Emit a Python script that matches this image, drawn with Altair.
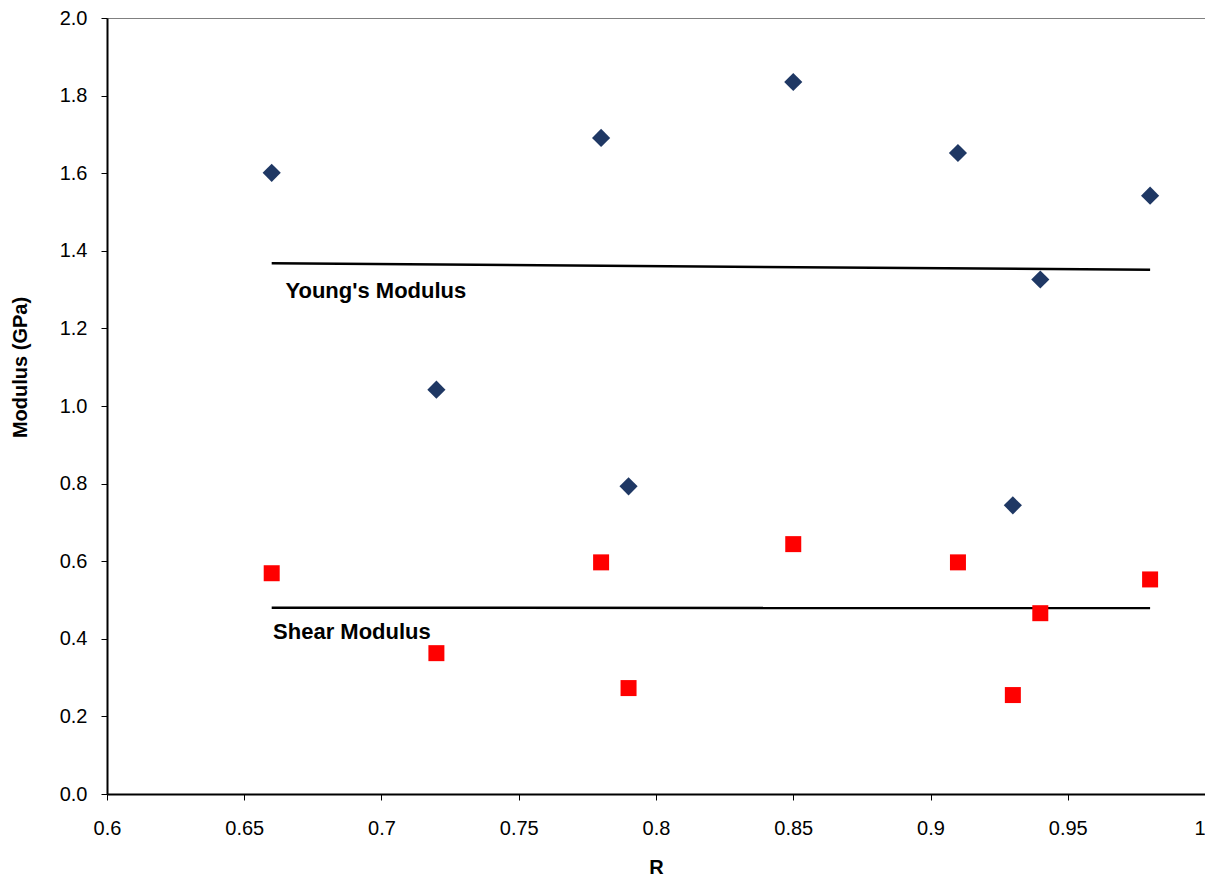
import altair as alt
import pandas as pd

R = [0.66, 0.72, 0.78, 0.79, 0.85, 0.91, 0.93, 0.94, 0.98]
youngs = [1.601, 1.042, 1.691, 0.793, 1.835, 1.652, 0.744, 1.326, 1.542]
shear = [0.569, 0.363, 0.597, 0.273, 0.644, 0.597, 0.255, 0.466, 0.553]

label_text = ["Young's Modulus", "Shear Modulus"]
label_R = [0.665, 0.6605]
label_val = [1.297, 0.417]

df = pd.DataFrame({"R": R, "Young": youngs, "Shear": shear})
lab = pd.DataFrame({"text": label_text, "R": label_R, "v": label_val})

FONT = "Liberation Sans"

xscale = alt.Scale(domain=[0.6, 1.0], nice=False, zero=False)
yscale = alt.Scale(domain=[0.0, 2.0], nice=False, zero=False)

xaxis = alt.Axis(title="R", values=[0.6, 0.65, 0.7, 0.75, 0.8, 0.85, 0.9, 0.95, 1.0],
                 format="~g", labelPadding=18, titleY=63, labelFlush=False,
                 labelAlign={"condition": {"test": "datum.value >= 0.999", "value": "right"},
                             "value": "center"})
yaxis = alt.Axis(title="Modulus (GPa)", values=[i / 10 for i in range(0, 21, 2)],
                 format=".1f", labelPadding=14, titleX=-77, titleY=349)

base = alt.Chart(df)

y_pts = base.mark_point(shape="diamond", filled=True, size=330, color="#1F3864", opacity=1).encode(
    x=alt.X("R:Q", scale=xscale, axis=xaxis),
    y=alt.Y("Young:Q", scale=yscale, axis=yaxis),
)
s_pts = base.mark_point(shape="square", filled=True, size=256, color="#FF0000", opacity=1).encode(
    x=alt.X("R:Q", scale=xscale, axis=xaxis),
    y=alt.Y("Shear:Q", scale=yscale, axis=yaxis),
)
y_fit = base.transform_regression("R", "Young").mark_line(color="black", strokeWidth=2.5).encode(
    x=alt.X("R:Q", scale=xscale, axis=xaxis),
    y=alt.Y("Young:Q", scale=yscale, axis=yaxis),
)
s_fit = base.transform_regression("R", "Shear").mark_line(color="black", strokeWidth=2.5).encode(
    x=alt.X("R:Q", scale=xscale, axis=xaxis),
    y=alt.Y("Shear:Q", scale=yscale, axis=yaxis),
)
labels = alt.Chart(lab).mark_text(align="left", baseline="middle", font=FONT, fontSize=22,
                                  fontWeight="bold", color="black").encode(
    x=alt.X("R:Q", scale=xscale, axis=xaxis),
    y=alt.Y("v:Q", scale=yscale, axis=yaxis),
    text="text:N",
)

chart = alt.layer(y_fit, s_fit, y_pts, s_pts, labels).properties(
    width=1098, height=776,
    autosize=alt.AutoSizeParams(type="none"),
    padding={"left": 99, "top": 10, "right": 0, "bottom": 86},
).configure_view(stroke="#808080", strokeWidth=1).configure_axis(
    grid=False, domainColor="black", domainWidth=2,
    tickColor="black", tickSize=6, tickWidth=1,
    labelFontSize=20, labelColor="black", labelFont=FONT,
    titleFont=FONT, titleFontSize=20, titleFontWeight="bold", titleColor="black",
)

chart.save("out.html", embed_options={"renderer": "svg", "actions": False})
